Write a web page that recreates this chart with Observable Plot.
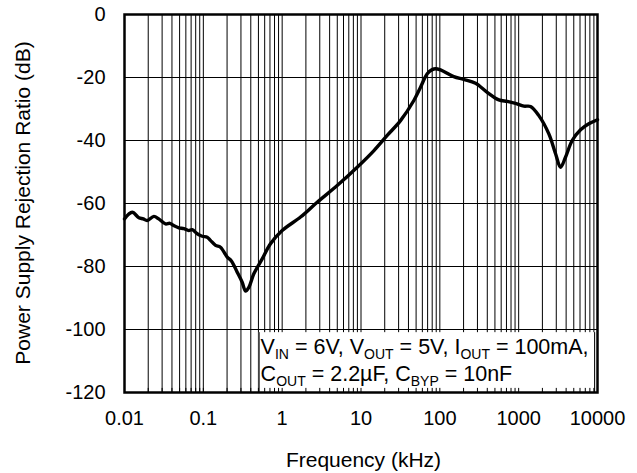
<!DOCTYPE html>
<html><head><meta charset="utf-8">
<script src="https://cdn.jsdelivr.net/npm/d3@7"></script>
<script src="https://cdn.jsdelivr.net/npm/@observablehq/plot@0.6"></script>
<style>html,body{margin:0;padding:0;background:#fff}#chart svg{display:block;overflow:visible}</style>
</head><body><div id="chart"></div>
<script>
// Frequency (kHz) and PSRR (dB)
const freq = [0.01, 0.0125, 0.0152, 0.0173, 0.0194, 0.0236, 0.0272, 0.0331, 0.0376, 0.0422, 0.0489, 0.0565, 0.0654, 0.0722, 0.0836, 0.0968, 0.112, 0.123, 0.143, 0.165, 0.201, 0.228, 0.269, 0.311, 0.343, 0.378, 0.437, 0.558, 0.711, 1.0, 1.71, 2.78, 4.99, 8.95, 14.6, 21.5, 31.7, 46.8, 56.9, 69.2, 80, 88.1, 102, 150, 201, 284, 399, 560, 716, 912, 1164, 1413, 1803, 2415, 2938, 3398, 3928, 4775, 6095, 7762, 10000];
const psrr = [-64.9, -62.8, -64.5, -64.9, -65.4, -64.1, -64.9, -66.5, -66.3, -67.0, -67.7, -68.0, -68.6, -68.3, -69.6, -70.4, -70.7, -71.7, -73.3, -73.9, -77.0, -78.3, -81.8, -85.0, -87.8, -86.6, -82.3, -77.6, -72.8, -68.6, -64.3, -59.6, -54.3, -48.5, -43.2, -38.4, -33.7, -27.3, -23.1, -18.8, -17.5, -17.2, -17.6, -19.7, -20.6, -21.8, -24.7, -27.1, -27.6, -28.2, -29.1, -29.2, -32.1, -37.9, -44.2, -48.5, -45.3, -40.0, -36.6, -34.7, -33.4];

const xTicks = [0.01, 0.1, 1, 10, 100, 1000, 10000];
const xTickLabels = ["0.01", "0.1", "1", "10", "100", "1000", "10000"];
const yTicks = [0, -20, -40, -60, -80, -100, -120];
const yTickLabels = ["0", "-20", "-40", "-60", "-80", "-100", "-120"];
const minorMultipliers = [1, 2, 3, 4, 5, 6, 7, 8, 9];

const xLabel = "Frequency (kHz)";
const yLabel = "Power Supply Rejection Ratio (dB)";
// [text, isSubscript]
const noteLine1 = [["V", false], ["IN", true], [" = 6V, V", false], ["OUT", true], [" = 5V, I", false], ["OUT", true], [" = 100mA,", false]];
const noteLine2 = [["C", false], ["OUT", true], [" = 2.2µF, C", false], ["BYP", true], [" = 10nF", false]];

const data = freq.map((f, i) => ({f, db: psrr[i]}));
const gridX = xTicks.slice(0, -1).flatMap(d => minorMultipliers.map(m => +(d * m).toPrecision(6))).concat([xTicks[xTicks.length - 1]]);

// note box (data units)
const boxX1 = 0.51, boxX2 = 9200, boxTop = -101, boxBottom = -120;
const boxes = [{x1: boxX1, x2: boxX2, y1: boxBottom, y2: boxTop}];

const font = "'Liberation Sans', Arial, Helvetica, sans-serif";
const chart = Plot.plot({
  width: 637, height: 473,
  marginLeft: 124, marginRight: 40, marginTop: 14, marginBottom: 81,
  style: {fontFamily: font, fontSize: "20px", color: "#000", background: "#fff", overflow: "visible"},
  x: {type: "log", domain: [0.01, 10000]},
  y: {type: "linear", domain: [-120, 0]},
  marks: [
    Plot.ruleX(gridX, {x: d => d, stroke: "#000", strokeWidth: 1, strokeOpacity: 1}),
    Plot.ruleY(yTicks, {y: d => d, stroke: "#000", strokeWidth: 1}),
    Plot.rect(boxes, {x1: "x1", x2: "x2", y1: "y1", y2: "y2", fill: "#fff"}),
    Plot.ruleX(boxes, {x: "x1", y1: "y1", y2: "y2", stroke: "#000", strokeWidth: 1}),
    Plot.ruleX(boxes, {x: "x2", y1: "y1", y2: "y2", stroke: "#000", strokeWidth: 1}),
    Plot.ruleX(gridX, {x: d => d, y1: d => -120, y2: d => -118.7, stroke: "#000", strokeWidth: 1}),
    Plot.line(data, {x: "f", y: "db", stroke: "#000", strokeWidth: 3.4, curve: "catmull-rom"}),
    Plot.frame({stroke: "#000", strokeWidth: 2.5}),
    Plot.axisX({ticks: xTicks, tickSize: 0, tickPadding: 18, tickFormat: d => xTickLabels[xTicks.indexOf(d)], fontSize: 20, label: null, fill: "#000"}),
    Plot.axisY({ticks: yTicks, tickSize: 0, tickPadding: 19, tickFormat: d => yTickLabels[yTicks.indexOf(d)], fontSize: 20, label: null, fill: "#000"})
  ]
});
document.getElementById("chart").appendChild(chart);

const svg = d3.select(chart);
const sx = chart.scale("x"), sy = chart.scale("y");
const [r0, r1] = sy.range;
const frameMidY = (r0 + r1) / 2;
const frameMidX = (sx.range[0] + sx.range[1]) / 2;

svg.append("text")
  .attr("transform", `translate(30,${frameMidY}) rotate(-90)`)
  .attr("text-anchor", "middle")
  .attr("font-family", font).attr("font-size", 21).attr("fill", "#000")
  .text(yLabel);

svg.append("text")
  .attr("x", frameMidX + 3).attr("y", 467)
  .attr("text-anchor", "middle")
  .attr("font-family", font).attr("font-size", 21).attr("fill", "#000")
  .text(xLabel);

function note(parts, yBase) {
  const t = svg.append("text")
    .attr("x", sx.apply(boxX1) + 2).attr("y", yBase)
    .attr("text-anchor", "start")
    .attr("font-family", font).attr("font-size", 21.5).attr("fill", "#000")
    .style("white-space", "pre");
  let shifted = false;
  for (const [s, sub] of parts) {
    const ts = t.append("tspan").text(s);
    if (sub && !shifted) { ts.attr("dy", 5).attr("font-size", 14); shifted = true; }
    else if (sub) { ts.attr("font-size", 14); }
    else if (shifted) { ts.attr("dy", -5); shifted = false; }
  }
}
const boxTopPx = sy.apply(boxTop);
note(noteLine1, boxTopPx + 22);
note(noteLine2, boxTopPx + 49);
</script>
</body></html>
